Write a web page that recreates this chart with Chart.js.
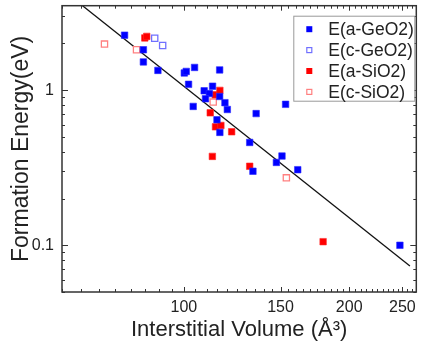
<!DOCTYPE html>
<html>
<head>
<meta charset="utf-8">
<script src="https://cdn.jsdelivr.net/npm/chart.js@4.4.0/dist/chart.umd.min.js"></script>
<style>
html,body{margin:0;padding:0;background:#fff;}
</style>
</head>
<body>
<canvas id="volChart" width="422" height="343"></canvas>
<script>
// values (volume in A^3, energy in eV)
var volA_GeO2 = [78, 84.4, 84.4, 89.7, 100.2, 101, 104.6, 116.2, 102, 112.8, 108.9, 111.3, 109.5, 116.2, 118.8, 120, 104, 114.9, 116.3, 131.8, 135.4, 153.2, 133.6, 147.4, 150.9, 161.2, 247.4];
var engA_GeO2 = [2.26, 1.82, 1.52, 1.34, 1.29, 1.32, 1.40, 1.35, 1.09, 1.06, 0.99, 0.95, 0.88, 0.91, 0.83, 0.75, 0.785, 0.644, 0.534, 0.46, 0.706, 0.81, 0.30, 0.342, 0.376, 0.307, 0.10];
var volC_GeO2 = [88.5, 91.5];
var engC_GeO2 = [2.16, 1.94];
var volA_SiO2 = [84.9, 85.6, 114.1, 116.3, 111.7, 114.2, 116.8, 122.2, 112.7, 131.8, 179.3];
var engA_SiO2 = [2.17, 2.22, 0.933, 0.996, 0.714, 0.58, 0.592, 0.539, 0.374, 0.323, 0.1055];
var volC_SiO2 = [71.7, 82.0, 113.1, 153.7];
var engC_SiO2 = [1.98, 1.82, 0.837, 0.272];
var fitVol = [65.4, 258];
var fitEng = [3.5, 0.0736];
var xTickLabels = [100, 150, 200, 250];
var yTickLabels = [0.1, 1];

var F = "'Liberation Sans', Arial, sans-serif";

function pts(xs, ys) {
  var out = [];
  for (var i = 0; i < xs.length; i++) out.push({x: xs[i], y: ys[i]});
  return out;
}

// minor tick positions for the frame
var xMinor = [];
for (var v = 60; v <= 265; v += 5) xMinor.push(v);
var yMinor = [];
[0.01, 0.1, 1].forEach(function (d) {
  for (var k = 1; k <= 9; k++) {
    var t = +(d * k).toFixed(3);
    if (t >= 0.05 && t <= 3.5) yMinor.push(t);
  }
});

var frameTicks = {
  id: 'frameTicks',
  afterDatasetsDraw: function (chart) {
    var ctx = chart.ctx, a = chart.chartArea;
    var xs = chart.scales.x, ys = chart.scales.y;
    ctx.save();
    ctx.strokeStyle = '#333';
    ctx.lineWidth = 1;
    ctx.beginPath();
    xMinor.forEach(function (v) {
      var p = Math.round(xs.getPixelForValue(v)) + 0.5;
      var len = xTickLabels.indexOf(v) >= 0 ? 5 : 3;
      ctx.moveTo(p, a.bottom); ctx.lineTo(p, a.bottom - len);
      ctx.moveTo(p, a.top); ctx.lineTo(p, a.top + len);
    });
    yMinor.forEach(function (v) {
      var p = Math.round(ys.getPixelForValue(v)) + 0.5;
      var len = yTickLabels.indexOf(v) >= 0 ? 6 : 3;
      ctx.moveTo(a.left, p); ctx.lineTo(a.left + len, p);
      ctx.moveTo(a.right, p); ctx.lineTo(a.right - len, p);
    });
    ctx.stroke();
    ctx.lineWidth = 1.5;
    ctx.strokeRect(a.left, a.top, a.right - a.left, a.bottom - a.top);
    ctx.restore();
  }
};

var boxLegend = {
  id: 'boxLegend',
  afterDraw: function (chart) {
    var ctx = chart.ctx, a = chart.chartArea;
    var x0 = a.right - 123, y0 = a.top + 10, w = 121, h = 85;
    ctx.save();
    ctx.fillStyle = '#fff';
    ctx.fillRect(x0, y0, w, h);
    ctx.strokeStyle = '#999';
    ctx.lineWidth = 1;
    ctx.strokeRect(x0 + 0.5, y0 + 0.5, w, h);
    ctx.font = '17.5px ' + F;
    ctx.textBaseline = 'middle';
    var row = 0;
    chart.data.datasets.forEach(function (ds) {
      if (!ds.label) return;
      var cy = y0 + 13.5 + row * 20.9;
      var cx = x0 + 16;
      if (ds.pointBackgroundColor !== '#fff') {
        ctx.fillStyle = ds.pointBackgroundColor;
        ctx.fillRect(cx - 3, cy - 3, 6, 6);
      } else {
        ctx.strokeStyle = ds.pointBorderColor;
        ctx.lineWidth = 1.2;
        ctx.strokeRect(cx - 2.5, cy - 2.5, 5, 5);
      }
      ctx.fillStyle = '#222';
      ctx.fillText(ds.label, x0 + 35, cy + 1);
      row++;
    });
    ctx.restore();
  }
};

var ctx = document.getElementById('volChart').getContext('2d');
var volChart = new Chart(ctx, {
  type: 'scatter',
  data: {
    datasets: [
      {label: 'E(a-GeO2)', data: pts(volA_GeO2, engA_GeO2), pointStyle: 'rect', pointRadius: 4.6,
       pointBackgroundColor: '#0000ff', pointBorderColor: '#2a2aff', pointBorderWidth: 0.6},
      {label: 'E(c-GeO2)', data: pts(volC_GeO2, engC_GeO2), pointStyle: 'rect', pointRadius: 4.4,
       pointBackgroundColor: '#fff', pointBorderColor: '#7070ff', pointBorderWidth: 1.3},
      {label: 'E(a-SiO2)', data: pts(volA_SiO2, engA_SiO2), pointStyle: 'rect', pointRadius: 4.6,
       pointBackgroundColor: '#ff0000', pointBorderColor: '#ff2a2a', pointBorderWidth: 0.6},
      {label: 'E(c-SiO2)', data: pts(volC_SiO2, engC_SiO2), pointStyle: 'rect', pointRadius: 4.4,
       pointBackgroundColor: '#fff', pointBorderColor: '#ff8080', pointBorderWidth: 1.3},
      {type: 'line', label: '', data: pts(fitVol, fitEng), borderColor: '#111', borderWidth: 1.3,
       pointRadius: 0, fill: false, tension: 0}
    ]
  },
  options: {
    responsive: false,
    animation: false,
    devicePixelRatio: 1,
    layout: {padding: {left: 8, top: 4, right: 2, bottom: 0}},
    plugins: {legend: {display: false}, tooltip: {enabled: false}},
    scales: {
      x: {
        type: 'logarithmic', min: 60, max: 265,
        grid: {display: false, drawTicks: false},
        border: {display: false},
        afterBuildTicks: function (s) { s.ticks = xTickLabels.map(function (v) { return {value: v}; }); },
        afterFit: function (s) { s.height = 51; s.paddingLeft = 0; s.paddingRight = 0; },
        ticks: {padding: 6, color: '#222', autoSkip: false, maxRotation: 0, font: {size: 16, family: F},
                callback: function (v) { return String(v); }},
        title: {display: true, text: 'Interstitial Volume (Å³)', color: '#222', padding: 0,
                font: {size: 22, family: F}}
      },
      y: {
        type: 'logarithmic', min: 0.05, max: 3.5,
        grid: {display: false, drawTicks: false},
        border: {display: false},
        afterBuildTicks: function (s) { s.ticks = yTickLabels.map(function (v) { return {value: v}; }); },
        afterFit: function (s) { s.width = 54; s.paddingTop = 0; s.paddingBottom = 0; },
        ticks: {padding: 8, color: '#222', autoSkip: false, font: {size: 16, family: F},
                callback: function (v) { return String(v); }},
        title: {display: true, text: 'Formation Energy(eV)', color: '#222', padding: 0,
                font: {size: 23, family: F}}
      }
    }
  },
  plugins: [frameTicks, boxLegend]
});
</script>
</body>
</html>
